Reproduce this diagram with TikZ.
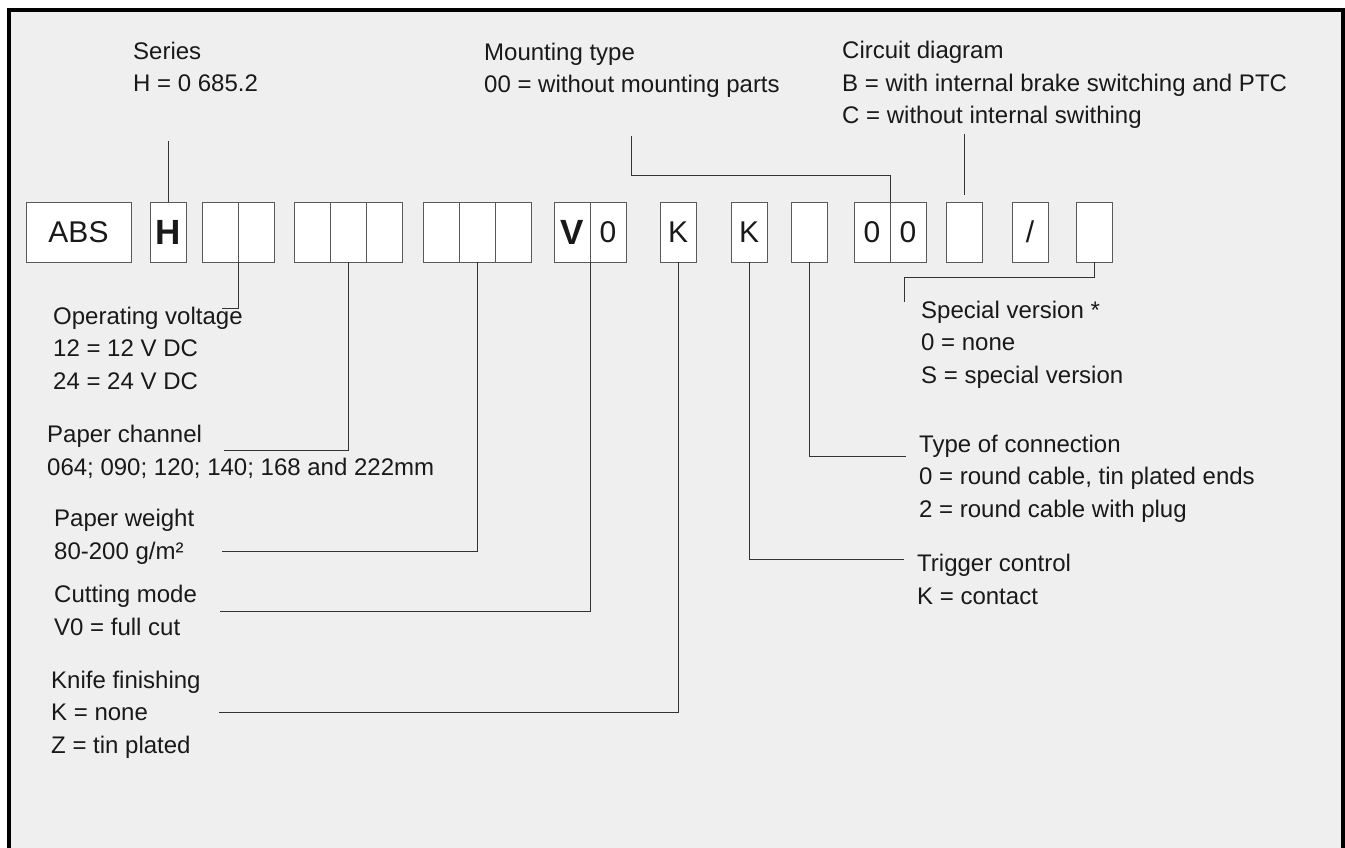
\documentclass[tikz,border=0pt]{standalone}
\usepackage{fontspec}
\setmainfont{Liberation Sans}
\usetikzlibrary{positioning, calc}

\definecolor{fondo}{HTML}{EFEFEF}

\begin{document}
\begin{tikzpicture}[
        x=1pt, y=-1pt,
        every node/.style={font=\fontsize{24}{32.5}\selectfont, text=black!90},
        slot/.style={
            rectangle, draw=black!65, fill=white, line width=0.8pt,
            minimum width=36pt, minimum height=60pt, inner sep=0pt, outer sep=0pt,
            font=\fontsize{30}{30}\selectfont
        },
        big/.style={font=\fontsize{35}{35}\selectfont\bfseries},
        desc/.style={anchor=base west, align=left, inner sep=0pt},
        lead/.style={draw=black!80, line width=0.9pt}
    ]
        \useasboundingbox (0,0) rectangle (1345,848);

% --- Rahmen ---
        \fill[white] (0,0) rectangle (1345,848);
        \fill[fondo] (9,10) rectangle (1343,848);
        \draw[line width=3.5pt] (9,848) -- (9,10) -- (1343,10) -- (1343,848);

% --- Typenschluessel ---
        \node[slot, minimum width=105pt] (abs) at (78.5,232) {ABS};
        \node[slot, big, right=19pt of abs] (h) {H};
        \node[slot, right=16pt of h] (g1a) {};
        \node[slot, right=0pt of g1a] (g1b) {};
        \node[slot, right=20pt of g1b] (g2a) {};
        \node[slot, right=0pt of g2a] (g2b) {};
        \node[slot, right=0pt of g2b] (g2c) {};
        \node[slot, right=21pt of g2c] (g3a) {};
        \node[slot, right=0pt of g3a] (g3b) {};
        \node[slot, right=0pt of g3b] (g3c) {};
        \node[slot, big, right=23pt of g3c] (v) {V};
        \node[slot, right=0pt of v] (vo) {0};
        \node[slot, right=34pt of vo] (k1) {K};
        \node[slot, right=35pt of k1] (k2) {K};
        \node[slot, right=24pt of k2] (e1) {};
        \node[slot, right=27pt of e1] (o1) {0};
        \node[slot, right=0pt of o1] (o2) {0};
        \node[slot, right=20pt of o2] (e2) {};
        \node[slot, right=30pt of e2] (sl) {/};
        \node[slot, right=28pt of sl] (sv) {};

% --- Erlaeuterungen oben (Grundlinie der letzten Zeile) ---
        \node[desc] (series) at (133,92) {Series\\H = 0 685.2};
        \node[desc] (mounting) at (484,93) {Mounting type\\00 = without mounting parts};
        \node[desc] (circuit) at (842,124)
            {Circuit diagram\\B = with internal brake switching and PTC\\C = without internal swithing};

% --- Erlaeuterungen links ---
        \node[desc] (volt) at (53,389) {Operating voltage\\12 = 12 V DC\\24 = 24 V DC};
        \node[desc] (channel) at (47,475) {Paper channel\\064; 090; 120; 140; 168 and 222mm};
        \node[desc] (weight) at (54,559) {Paper weight\\80-200 g/m²};
        \node[desc] (cutting) at (54,635) {Cutting mode\\V0 = full cut};
        \node[desc] (knife) at (51,753) {Knife finishing\\K = none\\Z = tin plated};

% --- Erlaeuterungen rechts ---
        \node[desc] (special) at (921,383) {Special version *\\0 = none\\S = special version};
        \node[desc] (connection) at (919,517)
            {Type of connection\\0 = round cable, tin plated ends\\2 = round cable with plug};
        \node[desc] (trigger) at (917,604) {Trigger control\\K = contact};

% --- Linien ---
        \coordinate (ser-end) at (168,141);
        \coordinate (mount-end) at (631,136);
        \coordinate (circ-end) at (963,134);
        \coordinate (volt-end) at (222,308);
        \coordinate (chan-end) at (224,450);
        \coordinate (weight-end) at (222,551);
        \coordinate (cut-end) at (220,611);
        \coordinate (knife-end) at (219,712);
        \coordinate (trig-end) at (904,559);
        \coordinate (conn-end) at (906,456);
        \coordinate (spec-end) at (904,302);

        \draw[lead] (h.north) -- (h.north |- ser-end);
        \draw[lead] (o1.north east) -- ++(0,-27) -| (mount-end);
        \draw[lead, shorten <=7pt] (e2.north) -- (e2.north |- circ-end);

        \draw[lead] (g1a.south east) |- (volt-end);
        \draw[lead] (g2b.south) |- (chan-end);
        \draw[lead] (g3b.south) |- (weight-end);
        \draw[lead] (v.south east) |- (cut-end);
        \draw[lead] (k1.south) |- (knife-end);

        \draw[lead] (k2.south) |- (trig-end);
        \draw[lead] (e1.south) |- (conn-end);
        \draw[lead] (sv.south) -- ++(0,15) -| (spec-end);
    \end{tikzpicture}
\end{document}
